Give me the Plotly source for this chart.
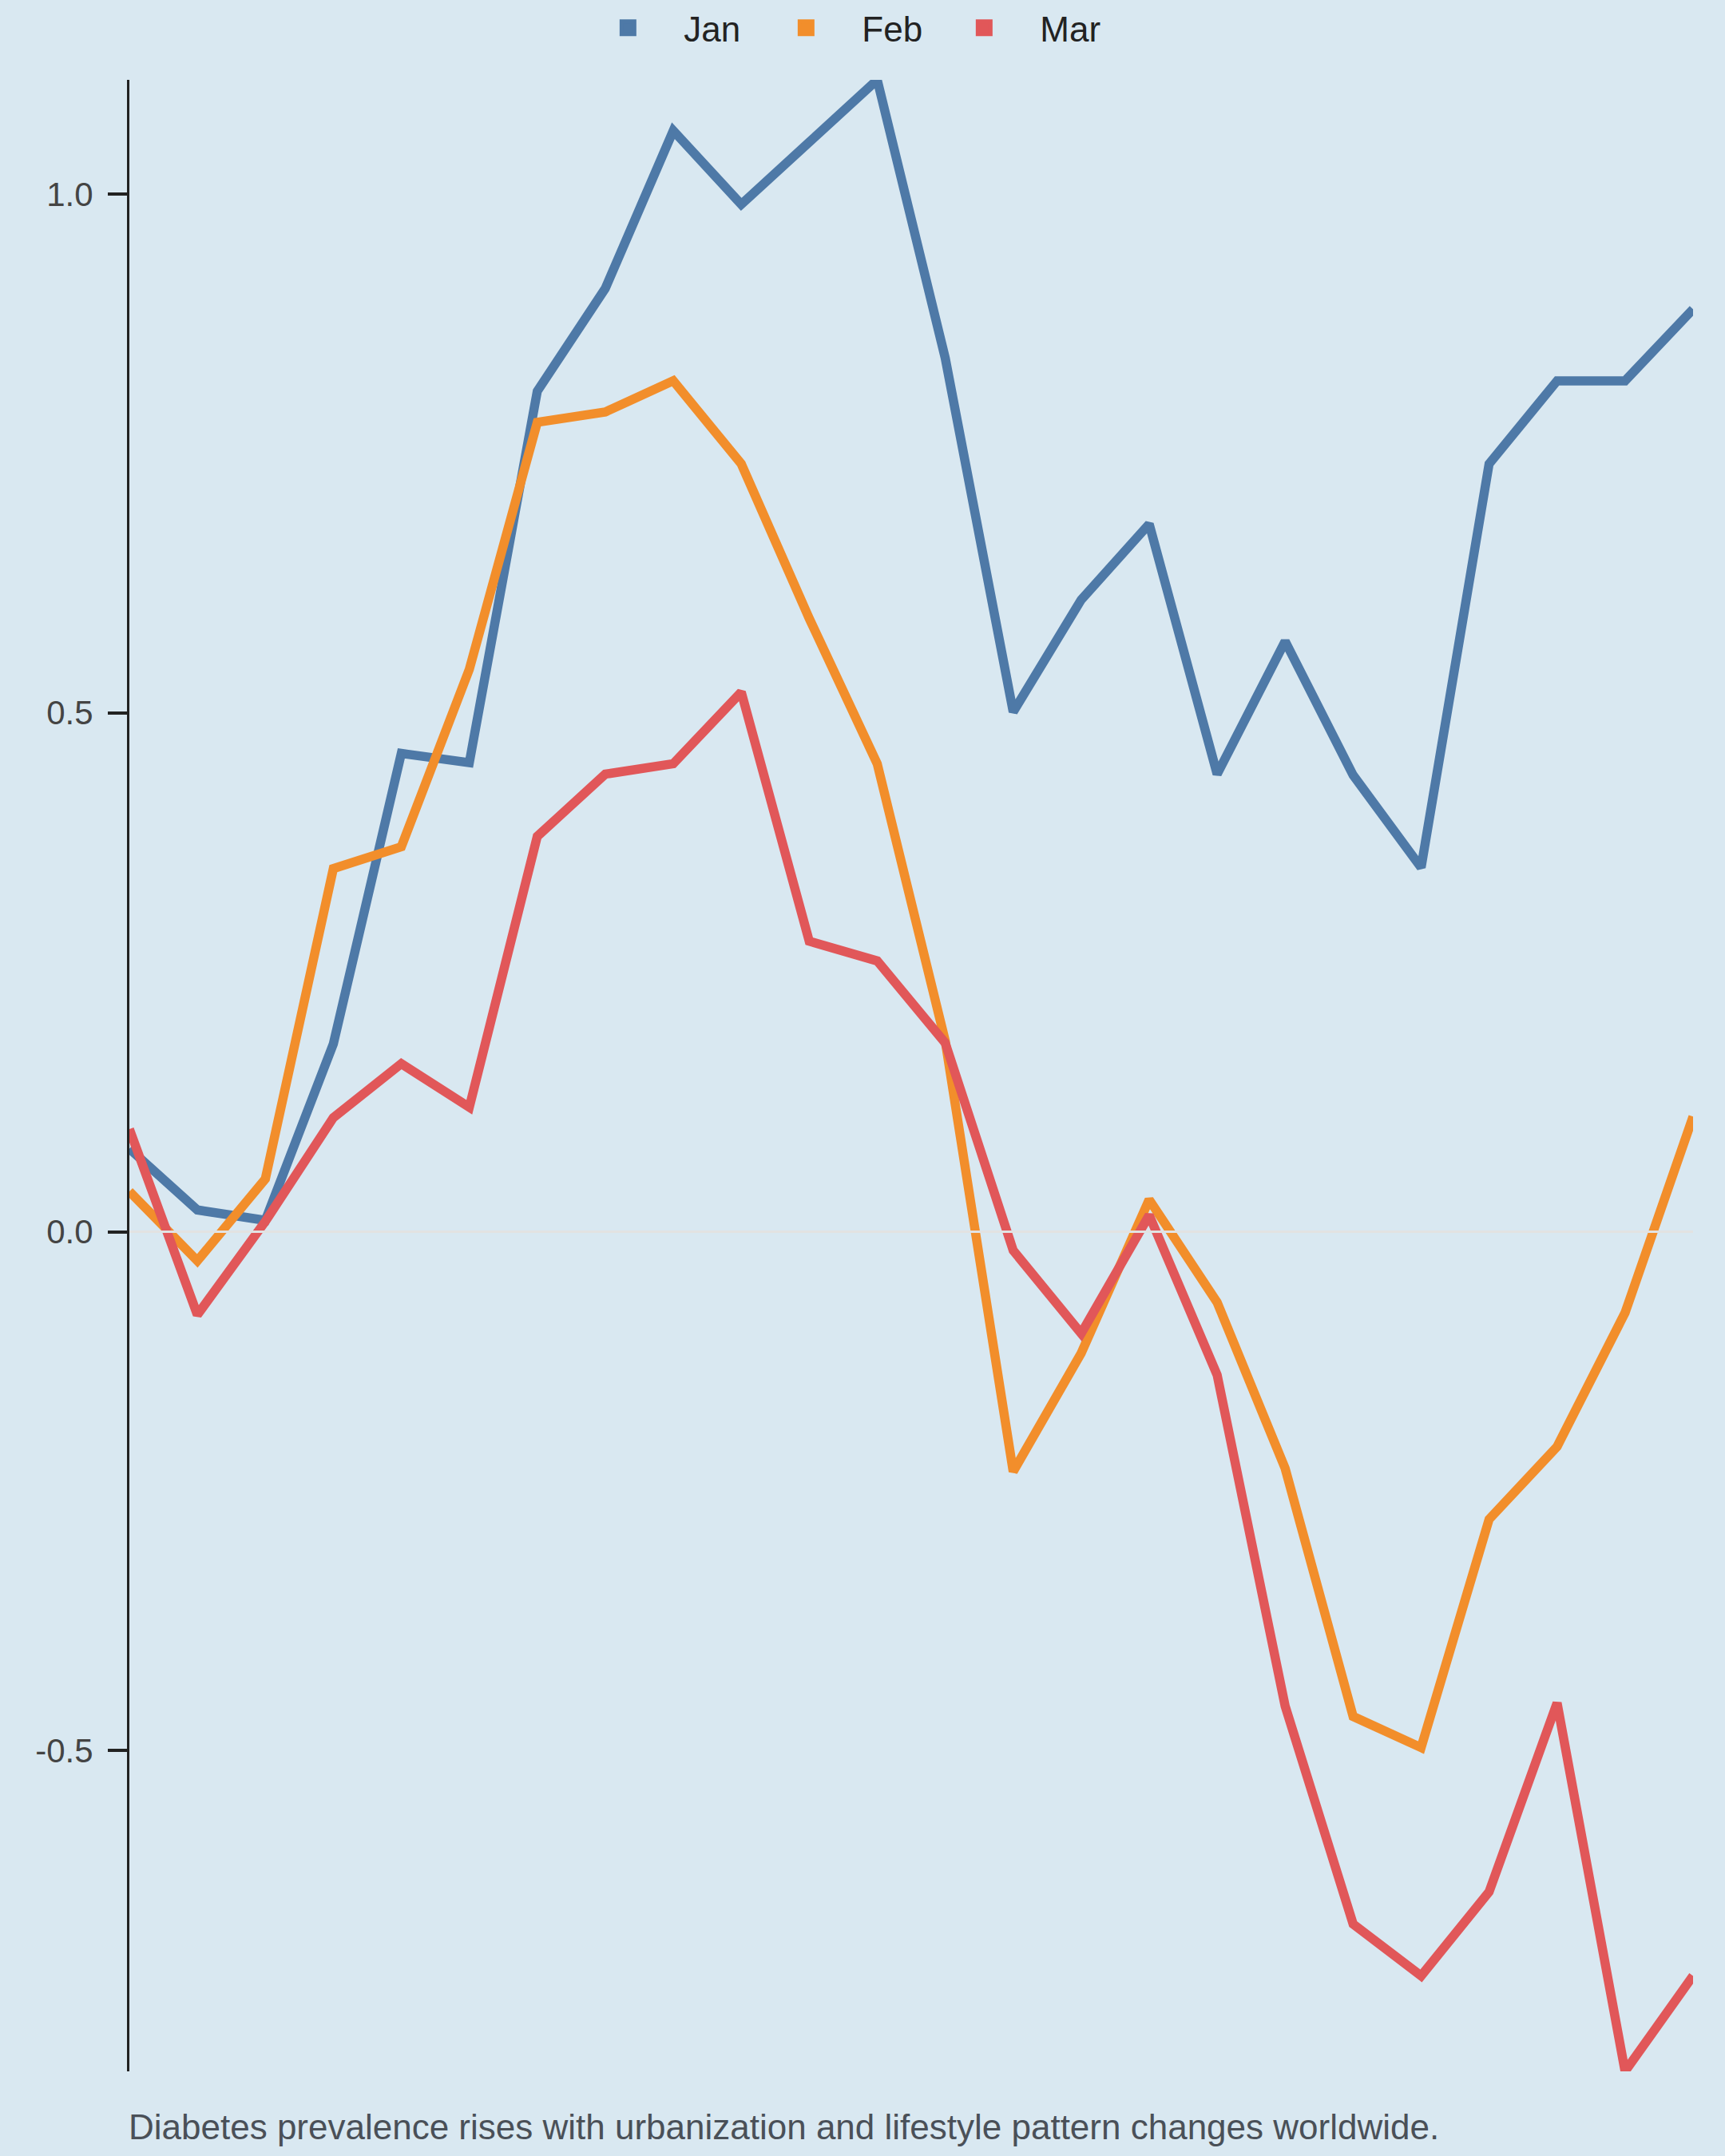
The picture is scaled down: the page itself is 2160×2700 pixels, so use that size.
import plotly.graph_objects as go

# ---- data ----
periods = list(range(24))

series_names = ["Jan", "Feb", "Mar"]
series_colors = ["#4e79a7", "#f28e2b", "#e15759"]

jan = [0.080, 0.021, 0.011, 0.181, 0.461, 0.452, 0.810, 0.909, 1.061, 0.990, 1.050, 1.110,
       0.842, 0.501, 0.609, 0.682, 0.441, 0.569, 0.440, 0.351, 0.740, 0.820, 0.820, 0.889]
feb = [0.039, -0.028, 0.051, 0.350, 0.371, 0.542, 0.780, 0.790, 0.820, 0.740, 0.591, 0.451,
       0.184, -0.231, -0.117, 0.031, -0.068, -0.228, -0.467, -0.497, -0.277, -0.207, -0.078, 0.111]
mar = [0.099, -0.080, 0.010, 0.110, 0.162, 0.120, 0.381, 0.441, 0.451, 0.520, 0.280, 0.261,
       0.182, -0.018, -0.098, 0.016, -0.138, -0.457, -0.667, -0.717, -0.636, -0.454, -0.809, -0.717]

y_ticks = [-0.5, 0.0, 0.5, 1.0]
y_ticklabels = [f"{v:.1f}" for v in y_ticks]   # plain hyphen for negatives

caption = "Diabetes prevalence rises with urbanization and lifestyle pattern changes worldwide."

BG = "#d9e8f1"
FONT = "Liberation Sans, Arial, sans-serif"

all_vals = jan + feb + mar

fig = go.Figure()

for name, vals, col in zip(series_names, [jan, feb, mar], series_colors):
    fig.add_trace(go.Scatter(
        x=periods, y=vals,
        mode="lines",
        name=name,
        line=dict(color=col, width=11.5),
        showlegend=False,
        hoverinfo="x+y+name",
    ))

# square legend swatches
for name, col in zip(series_names, series_colors):
    fig.add_trace(go.Scatter(
        x=[None], y=[None],
        mode="markers",
        name=name,
        marker=dict(symbol="square", size=16, color=col, line=dict(color=col, width=5)),
        showlegend=True,
    ))

fig.update_xaxes(
    range=[periods[0], periods[-1]],
    showline=False, showgrid=False, zeroline=False,
    showticklabels=False, ticks="",
)

fig.update_yaxes(
    range=[min(all_vals), max(all_vals)],
    showline=True, linecolor="#222222", linewidth=3,
    ticks="outside", ticklen=24, tickwidth=4, tickcolor="#222222",
    tickvals=y_ticks, ticktext=y_ticklabels,
    ticklabelstandoff=10,
    tickfont=dict(size=42, color="#444444", family=FONT),
    showgrid=False,
    zeroline=True, zerolinecolor="#e2e2e2", zerolinewidth=3,
    zerolinelayer="above traces",
)

fig.add_annotation(
    text=caption,
    xref="paper", yref="paper",
    x=0, y=-0.028, xshift=-3,
    xanchor="left", yanchor="middle",
    showarrow=False,
    font=dict(size=44, color="#4a5058", family=FONT),
)

fig.update_layout(
    width=2160, height=2700,
    paper_bgcolor=BG, plot_bgcolor=BG,
    font=dict(family=FONT, color="#222222"),
    margin=dict(l=162, r=40, t=100, b=106),
    legend=dict(
        orientation="h",
        xref="container", yref="container",
        x=0.4865, xanchor="center",
        y=0.987, yanchor="middle",
        font=dict(size=44, color="#222222", family=FONT),
        itemwidth=130,
        entrywidth=78,
        bgcolor="rgba(0,0,0,0)",
    ),
)

fig.write_html(
    "out.html",
    config={"displayModeBar": False},
    post_script="document.body.style.margin='0';",
)
